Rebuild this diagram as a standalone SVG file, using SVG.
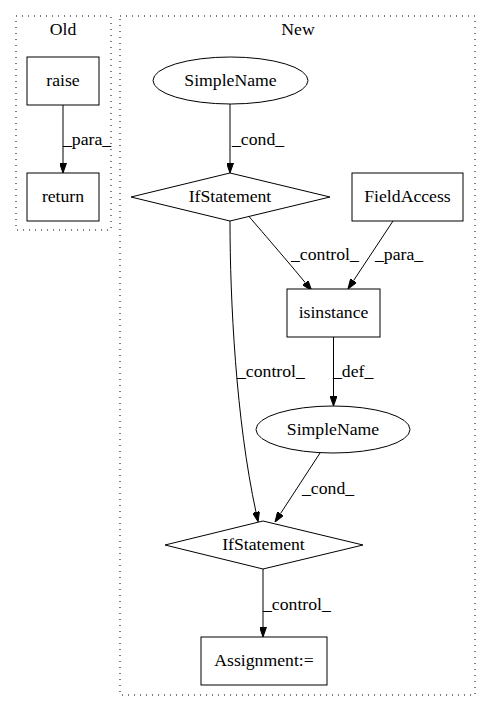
<svg xmlns="http://www.w3.org/2000/svg" width="491" height="712" viewBox="0 0 491 712">
<style>
text{font-family:"Liberation Serif","Times New Roman",serif;font-size:17.7px;fill:#000}
.c{text-anchor:middle}
.n{fill:#fff;stroke:#000;stroke-width:1}
.cl{fill:none;stroke:#000;stroke-dasharray:1,5}
.e{fill:none;stroke:#000;stroke-width:1;marker-end:url(#a)}
</style>
<defs>
<marker id="a" viewBox="0 0 10 7" refX="0" refY="3.5" markerWidth="10" markerHeight="7" markerUnits="userSpaceOnUse" orient="auto">
<polygon points="0,0 10,3.5 0,7" fill="#000" stroke="#000"/>
</marker>
</defs>
<rect width="491" height="712" fill="#fff"/>
<g id="cluster_old">
<rect class="cl" x="16" y="16" width="95" height="214"/>
<text class="c" x="63" y="35">Old</text>
</g>
<g id="cluster_new">
<rect class="cl" x="120" y="16" width="355" height="679"/>
<text class="c" x="298" y="35">New</text>
</g>
<g id="edges">
<path class="e" d="M63,105 L63,163"/>
<text x="63" y="145">_para_</text>
<path class="e" d="M230,104 L230,163"/>
<text x="232" y="145">_cond_</text>
<path class="e" d="M246,213 C258,227 290,264 305.3,282.7"/>
<text x="291" y="260">_control_</text>
<path class="e" d="M393,221 L353.5,280.7"/>
<text x="375" y="260">_para_</text>
<path class="e" d="M333.5,337 L333.5,396"/>
<text x="333" y="377">_def_</text>
<path class="e" d="M230,221 C230,300 236,420 256,512"/>
<text x="237" y="377">_control_</text>
<path class="e" d="M320,453 L280.5,513.6"/>
<text x="302" y="494">_cond_</text>
<path class="e" d="M263,569 L263,627"/>
<text x="263" y="610">_control_</text>
</g>
<g id="raise">
<rect class="n" x="27" y="57" width="72" height="48"/>
<text class="c" x="63" y="86">raise</text>
</g>
<g id="return">
<rect class="n" x="27" y="173" width="72" height="48"/>
<text class="c" x="63" y="202">return</text>
</g>
<g id="simplename1">
<ellipse class="n" cx="230.5" cy="80.5" rx="77.5" ry="23.5"/>
<text class="c" x="230.5" y="86">SimpleName</text>
</g>
<g id="ifstatement1">
<polygon class="n" points="230,173 330,197 230,221 131,197"/>
<text class="c" x="230" y="202">IfStatement</text>
</g>
<g id="fieldaccess">
<rect class="n" x="352" y="173" width="111" height="48"/>
<text class="c" x="407.5" y="202">FieldAccess</text>
</g>
<g id="isinstance">
<rect class="n" x="287" y="289" width="93" height="48"/>
<text class="c" x="333.5" y="318">isinstance</text>
</g>
<g id="simplename2">
<ellipse class="n" cx="333" cy="429.5" rx="77" ry="23.5"/>
<text class="c" x="333" y="435">SimpleName</text>
</g>
<g id="ifstatement2">
<polygon class="n" points="263,521 363,545 263,569 165,545"/>
<text class="c" x="263.5" y="550">IfStatement</text>
</g>
<g id="assignment">
<rect class="n" x="201" y="637" width="126" height="48"/>
<text class="c" x="264" y="666">Assignment:=</text>
</g>
</svg>
